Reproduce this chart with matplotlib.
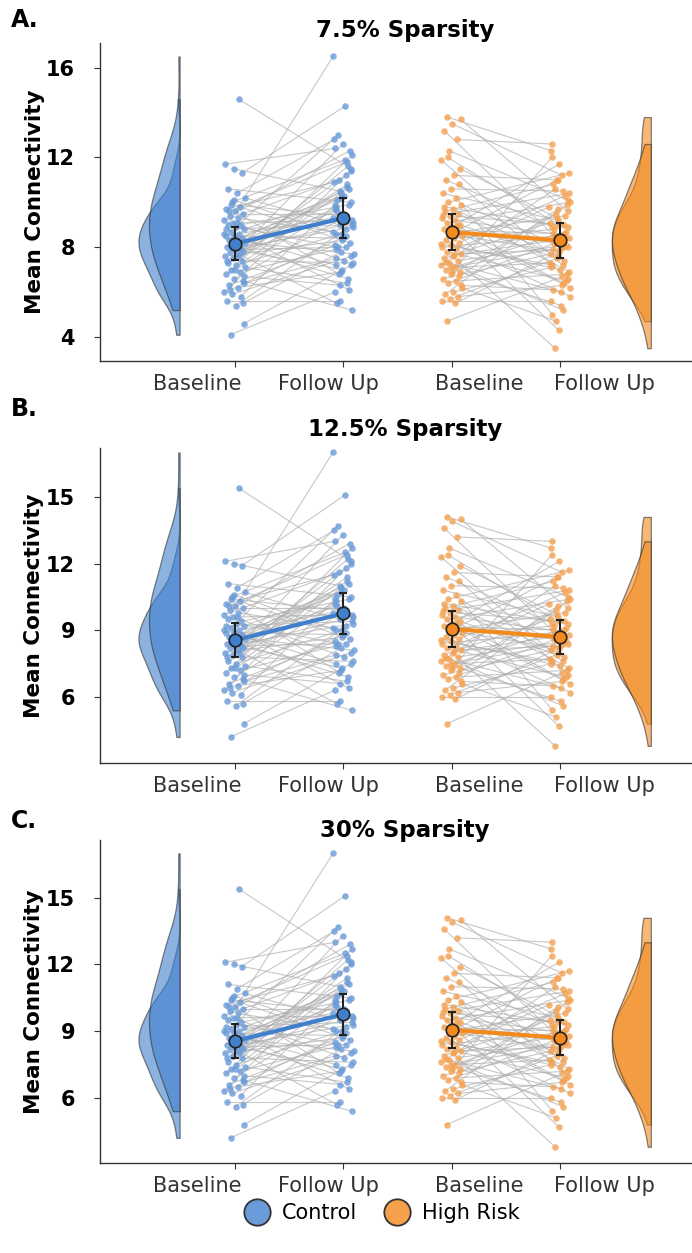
import numpy as np
import matplotlib
matplotlib.use("Agg")
import matplotlib.pyplot as plt
import matplotlib.transforms as mtransforms
from matplotlib.lines import Line2D

plt.rcParams['font.family'] = ['DejaVu Sans']

# ---- labels ----
time_labels = ["Baseline", "Follow Up", "Baseline", "Follow Up"]
group_names = ["Control", "High Risk"]
panel_titles = ["7.5% Sparsity", "12.5% Sparsity", "30% Sparsity"]
panel_letters = ["A.", "B.", "C."]

# ---- panel A (7.5% sparsity), paired subjects ----
ctrl_base_a = [4.1, 4.6, 5.4, 5.6, 5.8, 5.9, 6.0, 6.2, 6.3, 6.5, 6.6, 6.8, 6.9, 7.0, 7.1,
               7.2, 7.3, 7.4, 7.5, 7.6, 7.7, 7.8, 7.8, 7.9, 8.0, 8.0, 8.1, 8.2, 8.2, 8.3,
               8.4, 8.5, 8.5, 8.6, 8.7, 8.8, 8.9, 9.0, 9.0, 9.1, 9.2, 9.3, 9.4, 9.5, 9.6,
               9.7, 9.8, 10.0, 10.2, 10.4, 10.6, 11.3, 11.5, 11.7, 14.6, 6.1, 6.7, 7.0, 7.4, 7.9,
               8.3, 8.6, 9.1, 9.6, 5.5, 10.1, 8.8, 7.6, 9.9, 6.4]
ctrl_fu_a = [6.0, 7.2, 8.8, 5.6, 9.9, 7.6, 11.2, 6.9, 8.1, 5.2, 9.4, 10.4, 7.9, 12.1, 6.4,
             8.6, 9.8, 7.3, 10.8, 8.3, 5.5, 9.1, 11.6, 7.0, 10.1, 8.9, 6.6, 12.6, 9.6, 7.7,
             10.6, 8.4, 13.0, 9.3, 6.1, 10.3, 8.0, 16.5, 9.9, 7.4, 11.0, 8.7, 12.3, 9.5, 6.8,
             10.9, 8.2, 11.9, 9.0, 12.8, 10.0, 14.3, 10.5, 12.4, 11.5, 8.5, 6.3, 9.7, 11.4, 8.0,
             10.2, 7.2, 9.2, 11.8, 7.8, 8.6, 9.0, 10.7, 9.4, 7.5]
hr_base_a = [13.8, 13.7, 13.5, 13.2, 12.8, 12.3, 11.9, 11.2, 11.0, 10.8, 10.6, 10.4, 10.2, 10.0, 9.9,
             9.7, 9.6, 9.5, 9.4, 9.3, 9.2, 9.1, 9.0, 8.9, 8.8, 8.7, 8.6, 8.5, 8.4, 8.3,
             8.2, 8.1, 8.0, 7.9, 7.8, 7.7, 7.6, 7.5, 7.4, 7.3, 7.2, 7.1, 7.0, 6.9, 6.8,
             6.6, 6.5, 6.4, 6.2, 6.0, 5.9, 5.8, 5.7, 5.6, 5.5, 4.7, 11.5, 6.9, 9.8, 8.95,
             8.55, 8.15, 7.65, 7.35, 6.7, 7.1, 9.45, 8.75, 12.0, 6.3]
hr_fu_a = [12.3, 9.6, 11.2, 8.4, 12.6, 10.1, 7.2, 11.0, 8.9, 6.6, 10.5, 9.2, 5.0, 11.3, 8.0,
           7.6, 10.8, 6.9, 9.0, 4.3, 8.6, 10.0, 7.4, 11.7, 8.2, 6.2, 9.4, 7.8, 8.8, 5.8,
           10.3, 7.0, 8.5, 9.8, 6.5, 7.9, 3.5, 9.1, 8.1, 6.0, 10.6, 7.3, 8.7, 5.4, 9.5,
           7.7, 6.8, 8.3, 4.7, 7.1, 9.9, 6.3, 7.5, 5.6, 8.0, 6.7, 9.3, 12.0, 8.9, 6.4,
           11.0, 7.2, 8.4, 5.2, 9.7, 7.9, 10.4, 8.6, 9.0, 6.1]
err_a = [0.75, 0.88, 0.80, 0.78]
yticks_a = [4, 8, 12, 16]

# ---- panel B (12.5% sparsity) ----
ctrl_base_b = [4.2, 4.8, 5.6, 5.8, 6.1, 6.2, 6.3, 6.5, 6.6, 6.8, 6.9, 7.1, 7.2, 7.3, 7.4,
               7.5, 7.6, 7.8, 7.9, 8.0, 8.1, 8.2, 8.2, 8.3, 8.4, 8.4, 8.5, 8.6, 8.6, 8.7,
               8.8, 8.9, 8.9, 9.0, 9.1, 9.2, 9.3, 9.5, 9.4, 9.6, 9.7, 9.8, 9.9, 10.0, 10.1,
               10.2, 10.3, 10.5, 10.7, 10.9, 11.1, 11.9, 12.0, 12.1, 15.4, 6.4, 7.0, 7.3, 7.8, 8.3,
               8.7, 9.0, 9.6, 10.1, 5.7, 10.6, 9.2, 8.0, 10.4, 6.7]
ctrl_fu_b = [6.3, 7.5, 9.2, 5.8, 10.4, 8.0, 11.8, 7.2, 8.5, 5.4, 9.9, 10.9, 8.3, 12.7, 6.7,
             9.0, 10.3, 7.6, 11.4, 8.7, 5.7, 9.6, 12.2, 7.3, 10.6, 9.3, 6.9, 13.3, 10.1, 8.1,
             11.1, 8.8, 13.7, 9.8, 6.4, 10.8, 8.4, 17.0, 10.4, 7.8, 11.6, 9.1, 12.9, 10.0, 7.1,
             11.5, 8.6, 12.5, 9.5, 13.5, 10.5, 15.1, 11.0, 13.0, 12.1, 8.9, 6.6, 10.2, 12.0, 8.4,
             10.7, 7.5, 9.7, 12.4, 8.2, 9.0, 9.4, 11.2, 9.9, 7.9]
hr_base_b = [14.1, 14.0, 13.9, 13.6, 13.2, 12.7, 12.3, 11.6, 11.4, 11.2, 11.0, 10.8, 10.6, 10.4, 10.3,
             10.1, 10.0, 9.9, 9.8, 9.7, 9.6, 9.5, 9.4, 9.3, 9.2, 9.1, 9.0, 8.9, 8.8, 8.7,
             8.6, 8.5, 8.4, 8.3, 8.2, 8.1, 8.0, 7.9, 7.8, 7.7, 7.6, 7.5, 7.4, 7.3, 7.2,
             7.0, 6.9, 6.8, 6.6, 6.4, 6.3, 6.2, 6.1, 6.0, 5.9, 4.8, 11.9, 7.3, 10.2, 9.35,
             8.95, 8.55, 8.05, 7.75, 7.1, 7.5, 9.85, 9.15, 12.4, 6.7]
hr_fu_b = [12.7, 10.0, 11.6, 8.8, 13.0, 10.5, 7.6, 11.4, 9.3, 7.0, 10.9, 9.6, 5.4, 11.7, 8.4,
           8.0, 11.2, 7.3, 9.4, 4.7, 9.0, 10.4, 7.8, 12.1, 8.6, 6.6, 9.8, 8.2, 9.2, 6.2,
           10.7, 7.4, 8.9, 10.2, 6.9, 8.3, 3.8, 9.5, 8.5, 6.4, 11.0, 7.7, 9.1, 5.8, 9.9,
           8.1, 7.2, 8.7, 5.1, 7.5, 10.3, 6.7, 7.9, 6.0, 8.4, 7.1, 9.7, 12.4, 9.3, 6.8,
           11.4, 7.6, 8.8, 5.6, 10.1, 8.3, 10.8, 9.0, 9.4, 6.5]
err_b = [0.77, 0.93, 0.80, 0.78]
yticks_b = [6, 9, 12, 15]

# ---- panel C (30% sparsity): same values as panel B in the figure ----
ctrl_base_c = ctrl_base_b
ctrl_fu_c = ctrl_fu_b
hr_base_c = hr_base_b
hr_fu_c = hr_fu_b
err_c = [0.77, 0.93, 0.80, 0.78]
yticks_c = [6, 9, 12, 15]

blue = '#3f7fcc'
orange = '#f28a1e'
blue_pt = '#6a9bd8'
orange_pt = '#f4a251'

W, H = 692, 1253
# horizontal shift (px) of each x label relative to its tick
label_shift_px = [-38, -15, 28, 45]


def half_violin(ax, series, x0, color, width):
    curves = []
    for v in series:
        v = np.asarray(v, dtype=float)
        iqr = np.subtract(*np.percentile(v, [75, 25]))
        bw = 0.9 * min(v.std(ddof=1), iqr / 1.34) * len(v) ** -0.2
        grid = np.linspace(v.min(), v.max(), 300)
        d = np.exp(-0.5 * ((grid[:, None] - v[None, :]) / bw) ** 2).sum(1)
        d /= len(v) * bw * np.sqrt(2 * np.pi)
        curves.append((grid, d))
    dmax = max(c[1].max() for c in curves)
    for grid, d in curves:
        ax.fill_betweenx(grid, x0 - d / dmax * width, x0, facecolor=color, alpha=0.6,
                         edgecolor='#333333', linewidth=0.9, zorder=2)


def draw_panel(fig, ax, ctrl_base, ctrl_fu, hr_base, hr_fu, err, yticks, ylim):
    assert len(ctrl_base) == len(ctrl_fu) and len(hr_base) == len(hr_fu)
    half_violin(ax, [ctrl_base, ctrl_fu], 0.49, blue, 0.38)
    half_violin(ax, [hr_base, hr_fu], 4.84, orange, 0.36)

    for (base, fu, xb, xf, pc) in [(ctrl_base, ctrl_fu, 1, 2, blue_pt),
                                   (hr_base, hr_fu, 3, 4, orange_pt)]:
        n = len(base)
        jit = ((np.arange(n) * 0.618034 + 0.3) % 1 - 0.5) * 0.2
        jit2 = ((np.arange(n) * 0.754878 + 0.1) % 1 - 0.5) * 0.2
        for i in range(n):
            ax.plot([xb + jit[i], xf + jit2[i]], [base[i], fu[i]], color='#b0b0b0',
                    lw=0.8, alpha=0.7, zorder=3)
        ax.scatter(xb + jit, base, s=22, color=pc, alpha=0.8, lw=0, zorder=4)
        ax.scatter(xf + jit2, fu, s=22, color=pc, alpha=0.8, lw=0, zorder=4)

    means = [np.mean(ctrl_base), np.mean(ctrl_fu), np.mean(hr_base), np.mean(hr_fu)]
    for (xs, ms, es, c) in [([1, 2], means[:2], err[:2], blue),
                            ([3, 4], means[2:], err[2:], orange)]:
        ax.plot(xs, ms, color=c, lw=3, zorder=5)
        ax.errorbar(xs, ms, yerr=es, fmt='none', ecolor='#222222', elinewidth=1.5,
                    capsize=3, capthick=1.5, zorder=6)
        ax.plot(xs, ms, 'o', ms=9, mfc=c, mec='#222222', mew=1.2, zorder=7)

    ax.set_xlim(-0.245, 5.22)
    ax.set_ylim(*ylim)
    ticks = [1, 2, 3, 4]
    ax.set_xticks(ticks)
    ax.set_xticklabels([])
    for t, lab, dx in zip(ticks, time_labels, label_shift_px):
        tr = ax.get_xaxis_transform() + mtransforms.ScaledTranslation(
            dx / 100, -0.13, fig.dpi_scale_trans)
        ax.text(t, 0, lab, transform=tr, ha='center', va='top', fontsize=15,
                color='#333333')
    ax.set_yticks(yticks)
    ax.set_yticklabels([str(t) for t in yticks], fontsize=15, fontweight='bold')
    ax.set_ylabel("Mean Connectivity", fontsize=15.5, fontweight='bold', labelpad=1)
    for s in ['top', 'right']:
        ax.spines[s].set_visible(False)
    for s in ['left', 'bottom']:
        ax.spines[s].set_color('#333333')
        ax.spines[s].set_linewidth(1.0)
    ax.tick_params(axis='both', length=4, color='#333333')
    ax.tick_params(axis='y', pad=14)


fig = plt.figure(figsize=(W / 100, H / 100), dpi=100)

panels = [
    (ctrl_base_a, ctrl_fu_a, hr_base_a, hr_fu_a, err_a, yticks_a, (2.93, 17.1), 43, 361),
    (ctrl_base_b, ctrl_fu_b, hr_base_b, hr_fu_b, err_b, yticks_b, (3.03, 17.2), 448, 763),
    (ctrl_base_c, ctrl_fu_c, hr_base_c, hr_fu_c, err_c, yticks_c, (3.07, 17.6), 840, 1163),
]
title_y = [30, 430, 831]
letter_y = [20, 409, 821]

for k, (cb, cf, hb, hf, er, yt, yl, top, bot) in enumerate(panels):
    ax = fig.add_axes([100 / W, 1 - bot / H, 1 - 100 / W, (bot - top) / H])
    draw_panel(fig, ax, cb, cf, hb, hf, er, yt, yl)
    fig.text(405 / W, 1 - title_y[k] / H, panel_titles[k], ha='center', va='center',
             fontsize=16.5, fontweight='bold')
    fig.text(11 / W, 1 - letter_y[k] / H, panel_letters[k], ha='left', va='center',
             fontsize=17, fontweight='bold')

handles = [Line2D([], [], marker='o', ls='', ms=19, mfc=c, mec='#333333', mew=1.3)
           for c in ['#6a9bd8', '#f5a04a']]
fig.legend(handles, group_names, loc='center', bbox_to_anchor=(378 / W, 1 - 1213 / H),
           ncol=2, frameon=False, fontsize=15, handletextpad=0.2, columnspacing=0.9)

fig.savefig("out.png", dpi=100)
